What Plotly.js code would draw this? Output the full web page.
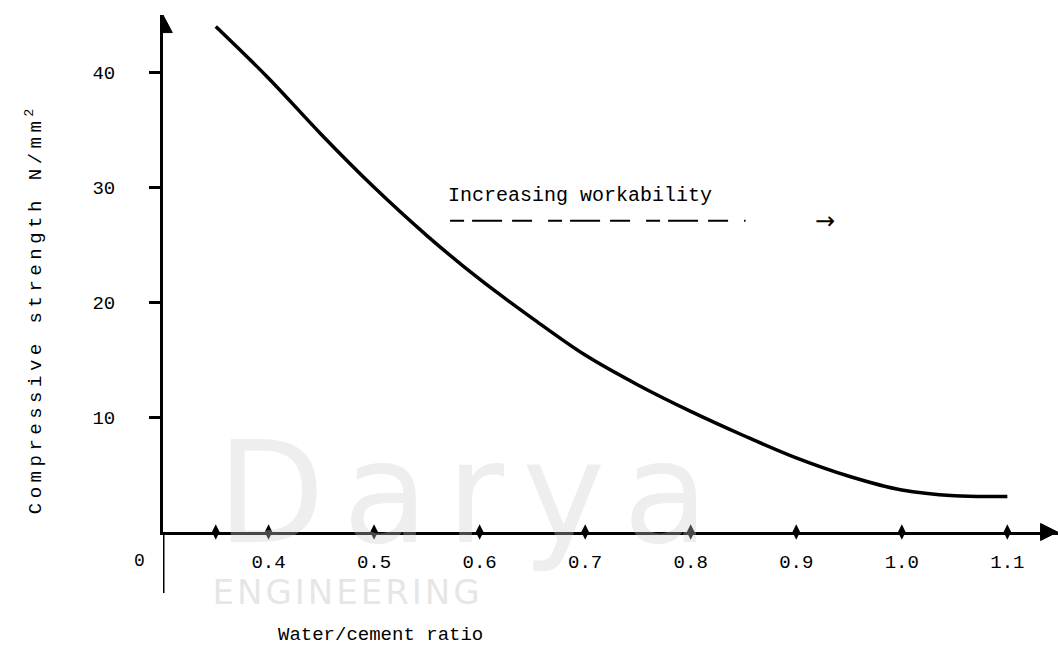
<!DOCTYPE html>
<html>
<head>
<meta charset="utf-8">
<script src="https://cdn.plot.ly/plotly-3.0.1.min.js"></script>
<style>
html,body{margin:0;padding:0;background:#fff;}
#chart{width:1058px;height:653px;}
g.annotation[data-index="4"] text{letter-spacing:4.5px;}
g.annotation[data-index="0"] text{letter-spacing:18px;}
g.annotation[data-index="1"] text{letter-spacing:3px;}
</style>
</head>
<body>
<div id="chart"></div>
<script>
// Data
const wcRatio = [0.35, 0.40, 0.45, 0.50, 0.55, 0.60, 0.65, 0.70, 0.75, 0.80, 0.85, 0.90, 0.95, 1.00, 1.05, 1.10];
const strength = [44.0, 39.5, 34.6, 30.0, 25.8, 22.0, 18.6, 15.4, 12.8, 10.5, 8.4, 6.45, 4.85, 3.65, 3.15, 3.1];
const xTickMarks = [0.35, 0.4, 0.5, 0.6, 0.7, 0.8, 0.9, 1.0, 1.1];
const xTickVals = [0.4, 0.5, 0.6, 0.7, 0.8, 0.9, 1.0, 1.1];
const xTickText = ['0.4', '0.5', '0.6', '0.7', '0.8', '0.9', '1.0', '1.1'];
const yTickVals = [10, 20, 30, 40];
const yTickText = ['10', '20', '30', '40'];

const FONT = 'Liberation Mono, DejaVu Sans Mono, monospace';

const traces = [
  {
    x: wcRatio, y: strength, type: 'scatter', mode: 'lines',
    line: {color: '#000', width: 3.5, shape: 'spline', smoothing: 1},
    hoverinfo: 'x+y', showlegend: false
  },
  {
    x: xTickMarks, y: xTickMarks.map(() => 0), type: 'scatter', mode: 'markers',
    marker: {color: '#000', size: 11, symbol: 'diamond-tall'},
    cliponaxis: false, hoverinfo: 'skip', showlegend: false
  }
];

const layout = {
  width: 1058, height: 653,
  margin: {l: 163, r: 0, t: 15, b: 121},
  paper_bgcolor: '#fff', plot_bgcolor: 'rgba(0,0,0,0)',
  showlegend: false,
  font: {family: FONT, color: '#000', size: 18},
  xaxis: {
    range: [0.3, 1.148], showgrid: false, zeroline: false,
    showline: true, linecolor: '#000', linewidth: 3,
    tickmode: 'array', tickvals: xTickVals, ticktext: xTickText,
    ticks: '', ticklabelstandoff: 10,
    tickfont: {family: FONT, size: 19, color: '#000'},
    fixedrange: true
  },
  yaxis: {
    range: [0, 45], showgrid: false, zeroline: false,
    showline: true, linecolor: '#000', linewidth: 3,
    tickmode: 'array', tickvals: yTickVals, ticktext: yTickText,
    ticks: 'outside', ticklen: 11, tickwidth: 3, tickcolor: '#000',
    ticklabelstandoff: 30,
    tickfont: {family: FONT, size: 19, color: '#000'},
    fixedrange: true
  },
  shapes: [
    // y-axis continues below the x-axis
    {type: 'line', xref: 'x', yref: 'paper', x0: 0.3, x1: 0.3, y0: 0, y1: -0.118,
     line: {color: '#000', width: 3}},
    // arrowheads
    {type: 'path', xref: 'x', yref: 'paper', path: 'M 0.3 1.0 L 0.2912 0.966 L 0.3088 0.966 Z',
     fillcolor: '#000', line: {color: '#000', width: 1}},
    {type: 'path', xref: 'x', yref: 'paper', path: 'M 1.1475 0 L 1.1315 0.0165 L 1.1315 -0.0165 Z',
     fillcolor: '#000', line: {color: '#000', width: 1}},
    // dashed underline of the workability note
    {type: 'line', xref: 'x', yref: 'y', x0: 0.572, x1: 0.852, y0: 27.1, y1: 27.1,
     line: {color: '#000', width: 2, dash: '14px,8px,30px,10px,20px,16px'}}
  ],
  annotations: [
    // watermark
    {xref: 'paper', yref: 'paper', x: 0.345, y: 0.075, text: 'Darya', showarrow: false,
     font: {family: 'DejaVu Sans', size: 140, color: 'rgba(205,205,205,0.35)'}, xanchor: 'center', yanchor: 'middle'},
    {xref: 'paper', yref: 'paper', x: 0.206, y: -0.116, text: 'ENGINEERING', showarrow: false,
     font: {family: 'DejaVu Sans', size: 34, color: 'rgba(205,205,205,0.5)'}, xanchor: 'center', yanchor: 'middle'},
    // origin label
    {xref: 'paper', yref: 'paper', x: -0.026, y: 0, yshift: -29, text: '0', showarrow: false,
     font: {family: FONT, size: 18, color: '#000'}, xanchor: 'center', yanchor: 'middle'},
    // x-axis title
    {xref: 'paper', yref: 'paper', x: 0.243, y: -0.2, text: 'Water/cement ratio', showarrow: false,
     font: {family: FONT, size: 19, color: '#000'}, xanchor: 'center', yanchor: 'middle'},
    // y-axis title
    {xref: 'paper', yref: 'paper', x: -0.143, y: 0.43, text: 'Compressive strength N/mm<sup>2</sup>', showarrow: false,
     textangle: -90, font: {family: FONT, size: 19, color: '#000'}, xanchor: 'center', yanchor: 'middle'},
    // workability note
    {xref: 'x', yref: 'y', x: 0.568, y: 29.3, text: 'Increasing workability', showarrow: false,
     font: {family: FONT, size: 20, color: '#000'}, xanchor: 'left', yanchor: 'middle'},
    {xref: 'x', yref: 'y', x: 0.927, y: 27.1, text: '→', showarrow: false,
     font: {family: 'DejaVu Sans', size: 24, color: '#000'}, xanchor: 'center', yanchor: 'middle'}
  ]
};

Plotly.newPlot('chart', traces, layout, {displayModeBar: false, staticPlot: true});
</script>
</body>
</html>
